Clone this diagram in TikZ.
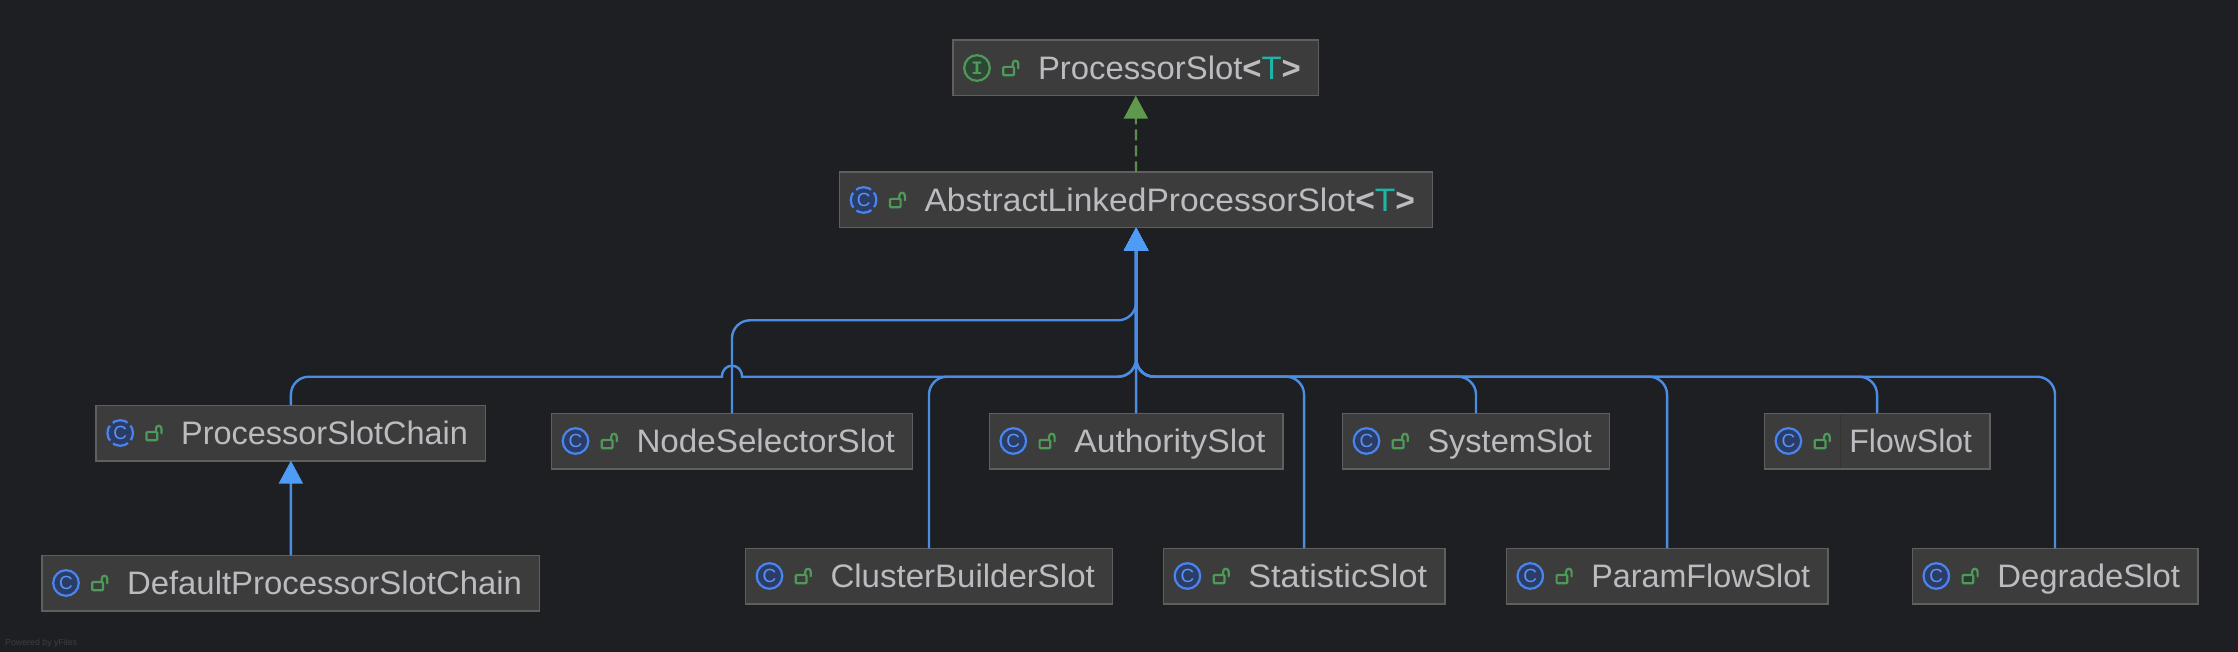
\documentclass[tikz,border=0pt]{standalone}
\usepackage{fontspec}
\usepackage{graphicx}
\setmainfont{Liberation Sans}
\setmonofont{Liberation Mono}
\usetikzlibrary{arrows.meta,calc}
\definecolor{bg}{HTML}{1E1F22}
\definecolor{boxfill}{HTML}{3C3C3C}
\definecolor{boxline}{HTML}{5E5F5E}
\definecolor{boxseam}{HTML}{353535}
\definecolor{labeltext}{HTML}{BBBBC0}
\definecolor{tealT}{HTML}{1FB5A6}
\definecolor{edgeblue}{HTML}{4A8DE2}
\definecolor{tipblue}{HTML}{4F9CF7}
\definecolor{edgegreen}{HTML}{5A8F4A}
\definecolor{tipgreen}{HTML}{5F9A4C}
\definecolor{iconblue}{HTML}{4A84EE}
\definecolor{iconletter}{HTML}{5A94F2}
\definecolor{iconnavy}{HTML}{2B3D66}
\definecolor{icongreen}{HTML}{4F9A58}
\definecolor{icondark}{HTML}{2D4635}
\definecolor{lockdark}{HTML}{2B3A2E}
\definecolor{yfiles}{HTML}{3D3E41}
\tikzset{
  umlbox/.style={draw=boxline,fill=boxfill,line width=1.6pt,inner sep=0pt,outer sep=0pt,anchor=north west,minimum height=55.4pt},
  umllabel/.style={inner sep=0pt,outer sep=0pt,anchor=base west,text=labeltext,font=\fontsize{32.5}{36}\selectfont},
  lockbody/.style={draw=icongreen,line width=2.2pt,rounded corners=1pt},
  lockarc/.style={draw=icongreen,line width=2.2pt,line cap=round},
  inherit/.style={draw=edgeblue,line width=2.4pt,rounded corners=18pt,-{Triangle[width=24pt,length=23pt,fill=tipblue,color=tipblue]}},
  realize/.style={draw=edgegreen,line width=2.2pt,dash pattern=on 11pt off 5pt,-{Triangle[width=24pt,length=23pt,fill=tipgreen,color=tipgreen]}},
}
\newcommand{\iconC}[1]{%
  \node[inner sep=0pt,text=iconletter,font=\fontsize{19}{19}\selectfont] (#1-c) at (24,27.7) {C};}
\def\lockfill{boxfill}
% name, x1, y1, x2, kind (i/a/c), label
\newcommand{\umlnode}[6]{%
  \pgfmathsetmacro{\boxw}{#4-#2}%
  \pgfmathsetmacro{\textw}{\boxw-102.6}%
  \node[umlbox,minimum width=\boxw pt] (#1) at (#2,#3) {};
  \begin{scope}[shift={(#2,#3)}]
    \if#5i
      \draw[draw=icongreen,fill=icondark,line width=2.2pt] (24,27.7) circle (12.8pt);
      \node[inner sep=0pt,text=icongreen,font=\ttfamily\bfseries\fontsize{19}{19}\selectfont] (#1-c) at (24,27.7) {I};
    \else\if#5a
      \fill[iconnavy] (24,27.7) circle (12.8pt);
      \draw[draw=iconblue,line width=2.2pt,dash pattern=on 16pt off 4.1pt,dash phase=8pt] (24,27.7) circle (12.8pt);
      \iconC{#1}
    \else
      \draw[draw=iconblue,fill=iconnavy,line width=2.2pt] (24,27.7) circle (12.8pt);
      \iconC{#1}
    \fi\fi
    \draw[lockbody,fill=\lockfill] (50.3,26.6) rectangle (61,35);
    \draw[lockarc] (59.7,25.5) -- (59.7,23.6) .. controls (59.7,19.4) and (65.3,19.4) .. (65.3,23.6) -- (65.3,28);
    \node[umllabel] (#1-t) at (85,39) {\resizebox{\textw pt}{\height}{#6}};
  \end{scope}}
\newcommand{\genT}{\textbf{<}\textcolor{tealT}{T}\textbf{>}}
\begin{document}
\begin{tikzpicture}[x=1pt,y=-1pt]
\useasboundingbox[fill=bg] (0,0) rectangle (2238,652);
\umlnode{pslot}{953}{40.3}{1318.5}{i}{ProcessorSlot\genT}
\umlnode{abstract}{839.6}{172.3}{1432.6}{a}{AbstractLinkedProcessorSlot\genT}
\umlnode{chain}{96.2}{405.3}{485.6}{a}{ProcessorSlotChain}
\umlnode{default}{42}{555.3}{539.6}{c}{DefaultProcessorSlotChain}
\umlnode{nodesel}{551.5}{413.3}{912.5}{c}{NodeSelectorSlot}
\umlnode{cluster}{745.5}{548.3}{1112.5}{c}{ClusterBuilderSlot}
\umlnode{authority}{989.3}{413.3}{1283}{c}{AuthoritySlot}
\umlnode{statistic}{1163.4}{548.3}{1444.7}{c}{StatisticSlot}
\umlnode{system}{1342.5}{413.3}{1609.5}{c}{SystemSlot}
\umlnode{param}{1506.3}{548.3}{1827.8}{c}{ParamFlowSlot}
\def\lockfill{lockdark}
\umlnode{flow}{1764.4}{413.3}{1989.7}{c}{FlowSlot}
\umlnode{degrade}{1912.3}{548.3}{2197.7}{c}{DegradeSlot}
\draw[boxseam,line width=1pt] ($(flow.north west)+(76,1)$) -- ($(flow.south west)+(76,-1)$);
\node[inner sep=0pt,anchor=base west,text=yfiles,font=\fontsize{8.8}{10}\selectfont] (powered) at (5,645.7) {Powered by yFiles};
\coordinate (bus) at (0,376.7);
\coordinate (bustop) at (0,320.3);
\coordinate (chaincorner) at (chain.north |- bus);
\coordinate (hopl) at ($(nodesel.north |- bus)+(-10,0)$);
\coordinate (hopr) at ($(nodesel.north |- bus)+(10,0)$);
% realization
\draw[realize] (abstract.north) -- (pslot.south);
% inheritance
\draw[inherit] (default.north) -- (chain.south);
\draw[inherit] (nodesel.north) -- (nodesel.north |- bustop) -- (abstract.south |- bustop) -- (abstract.south);
\draw[inherit,sharp corners] (chain.north) -- ($(chaincorner)+(0,18)$) .. controls ($(chaincorner)+(0,8)$) and ($(chaincorner)+(8,0)$) .. ($(chaincorner)+(18,0)$) -- (hopl) .. controls ($(hopl)+(0,-14.6)$) and ($(hopr)+(0,-14.6)$) .. (hopr) [rounded corners=18pt] -- (abstract.south |- bus) -- (abstract.south);
\draw[inherit] (cluster.north) -- (cluster.north |- bus) -- (abstract.south |- bus) -- (abstract.south);
\draw[inherit] (authority.north) -- (abstract.south);
\draw[inherit] (statistic.north) -- (statistic.north |- bus) -- (abstract.south |- bus) -- (abstract.south);
\draw[inherit] (system.north) -- (system.north |- bus) -- (abstract.south |- bus) -- (abstract.south);
\draw[inherit] (param.north) -- (param.north |- bus) -- (abstract.south |- bus) -- (abstract.south);
\draw[inherit] (flow.north) -- (flow.north |- bus) -- (abstract.south |- bus) -- (abstract.south);
\draw[inherit] (degrade.north) -- (degrade.north |- bus) -- (abstract.south |- bus) -- (abstract.south);
\end{tikzpicture}
\end{document}
